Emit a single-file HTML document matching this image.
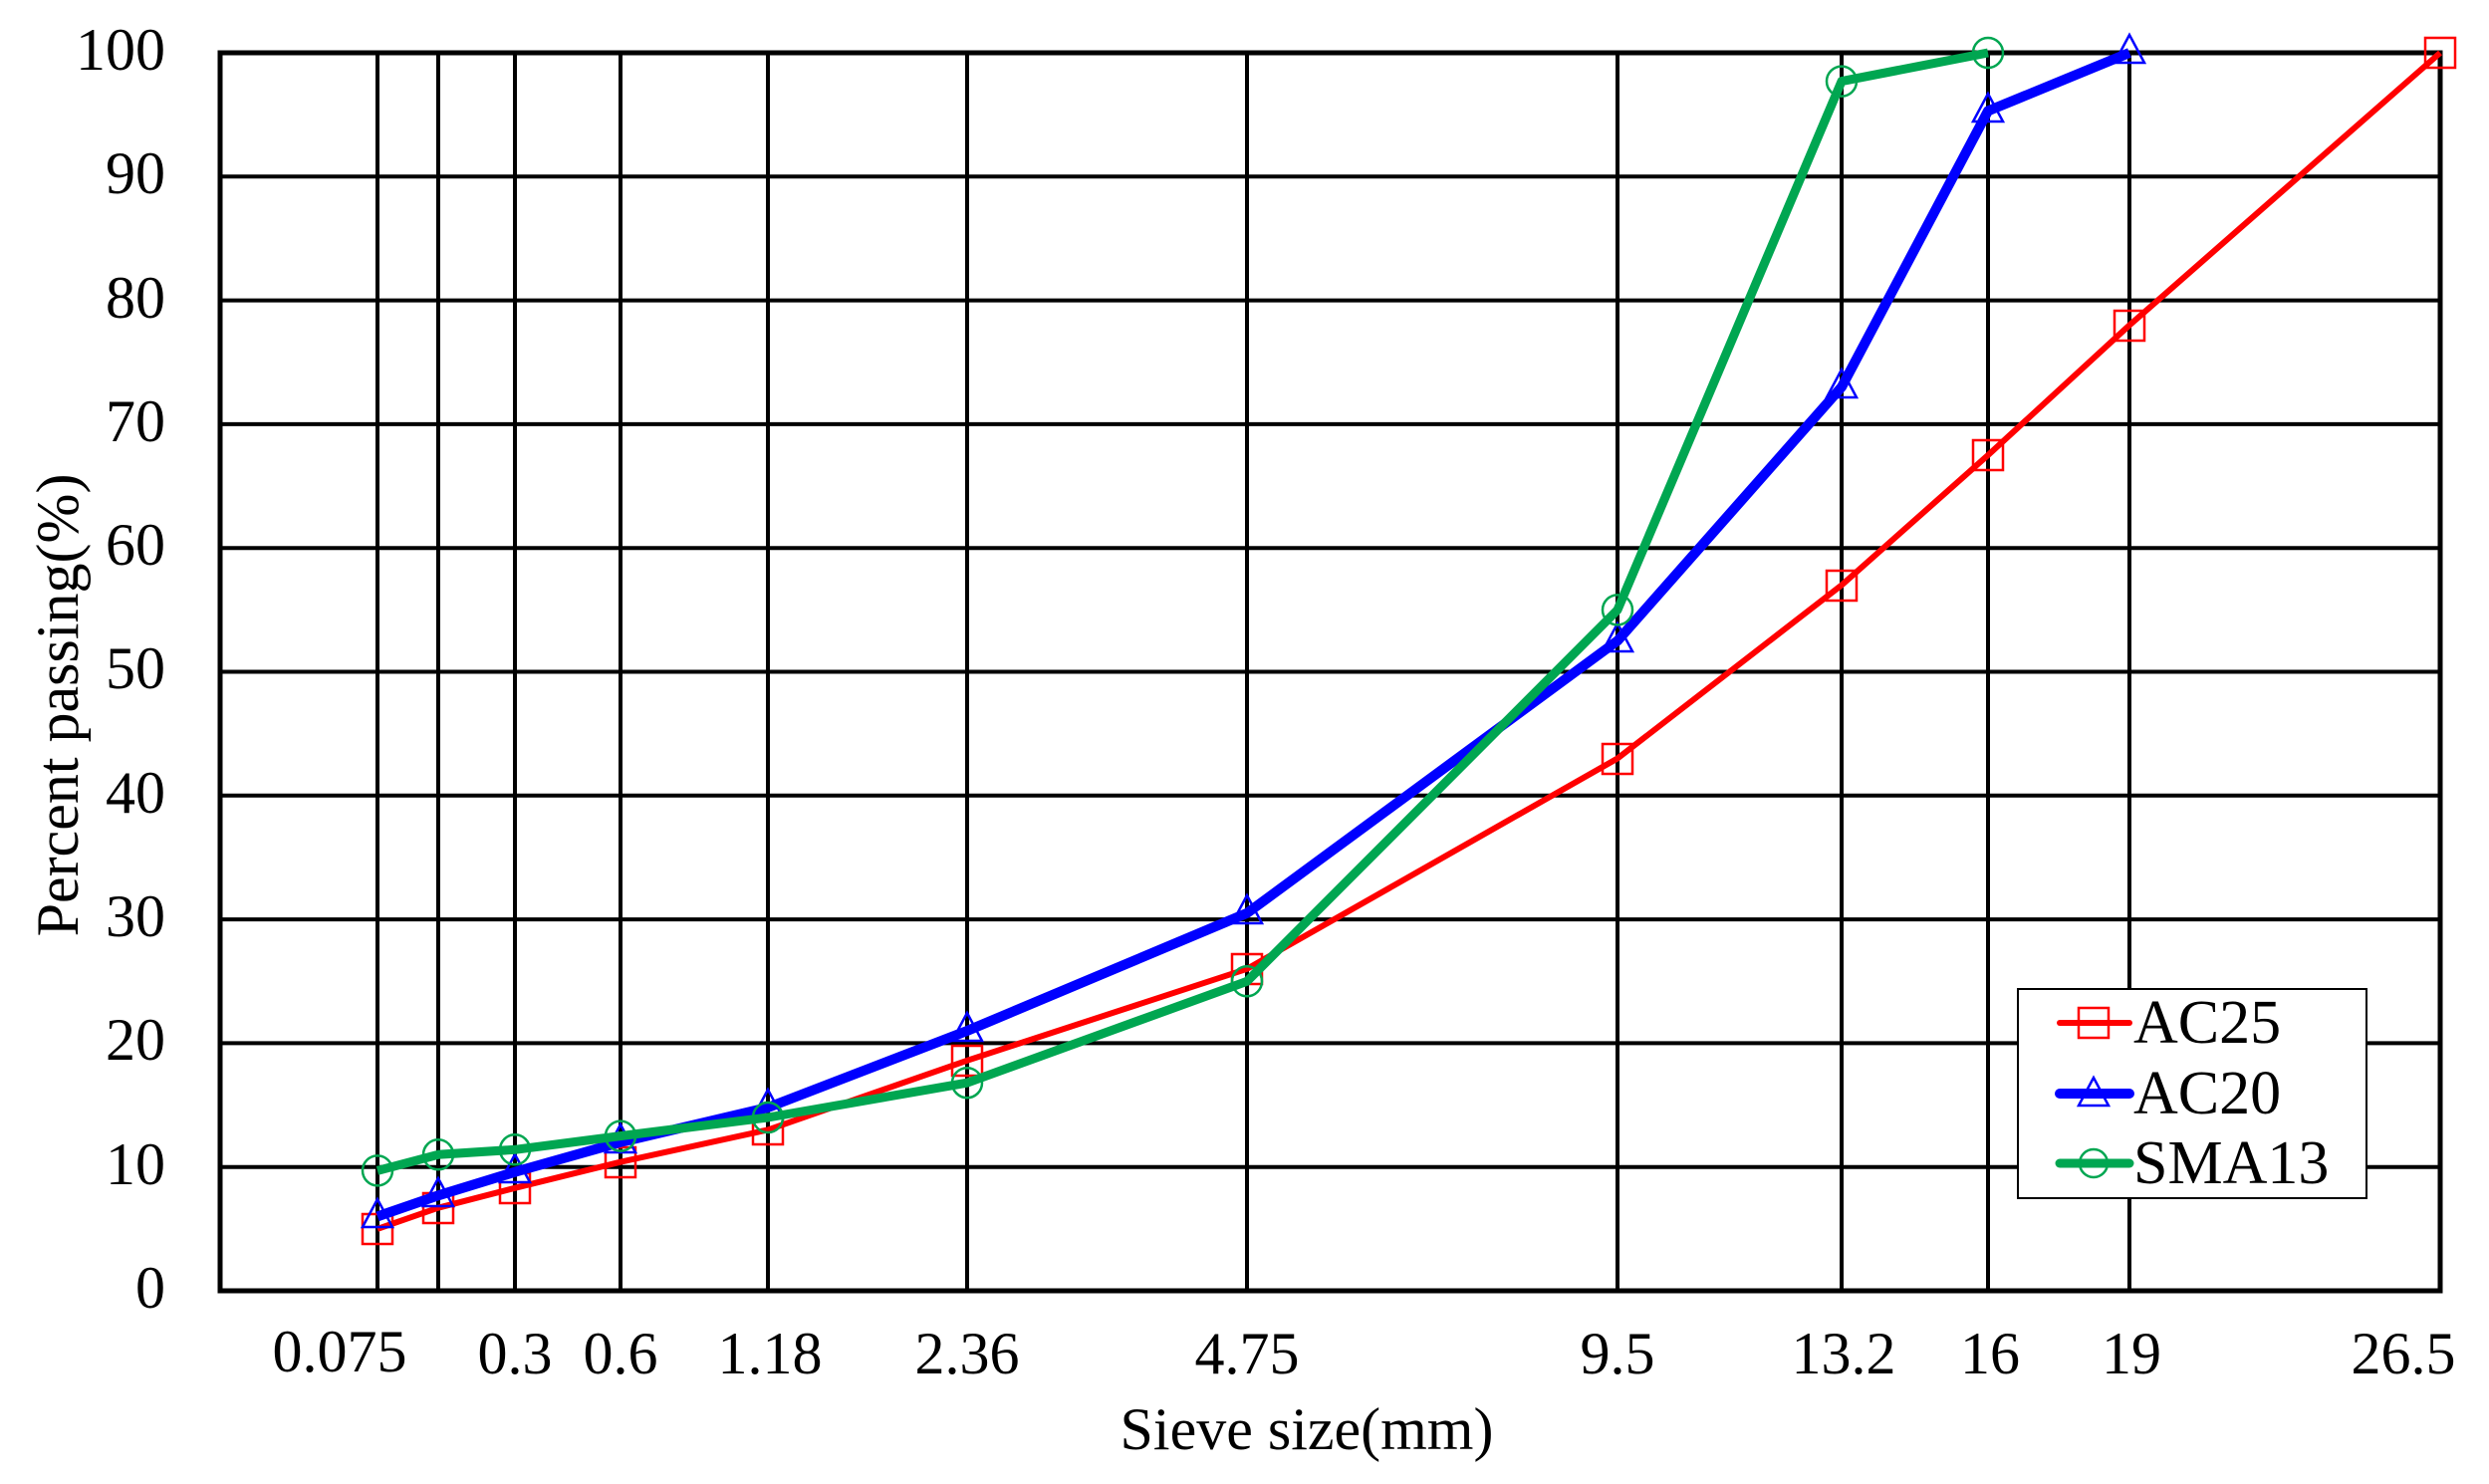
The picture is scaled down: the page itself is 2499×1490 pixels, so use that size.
<!DOCTYPE html>
<html><head><meta charset="utf-8"><style>html,body{margin:0;padding:0;background:#fff}svg{display:block}</style></head>
<body>
<svg width="2499" height="1490" viewBox="0 0 2499 1490" xmlns="http://www.w3.org/2000/svg" font-family="Liberation Serif, serif">
<rect width="2499" height="1490" fill="#fff"/>
<g stroke="#000" stroke-width="4">
<line x1="221" y1="53" x2="2450" y2="53"/>
<line x1="221" y1="177.3" x2="2450" y2="177.3"/>
<line x1="221" y1="301.6" x2="2450" y2="301.6"/>
<line x1="221" y1="425.9" x2="2450" y2="425.9"/>
<line x1="221" y1="550.2" x2="2450" y2="550.2"/>
<line x1="221" y1="674.5" x2="2450" y2="674.5"/>
<line x1="221" y1="798.8" x2="2450" y2="798.8"/>
<line x1="221" y1="923.1" x2="2450" y2="923.1"/>
<line x1="221" y1="1047.4" x2="2450" y2="1047.4"/>
<line x1="221" y1="1171.7" x2="2450" y2="1171.7"/>
<line x1="379" y1="53" x2="379" y2="1296"/>
<line x1="440" y1="53" x2="440" y2="1296"/>
<line x1="517" y1="53" x2="517" y2="1296"/>
<line x1="623" y1="53" x2="623" y2="1296"/>
<line x1="771" y1="53" x2="771" y2="1296"/>
<line x1="971" y1="53" x2="971" y2="1296"/>
<line x1="1252" y1="53" x2="1252" y2="1296"/>
<line x1="1624" y1="53" x2="1624" y2="1296"/>
<line x1="1849" y1="53" x2="1849" y2="1296"/>
<line x1="1996" y1="53" x2="1996" y2="1296"/>
<line x1="2138" y1="53" x2="2138" y2="1296"/>
</g>
<rect x="221" y="53" width="2229" height="1243" fill="none" stroke="#000" stroke-width="5"/>
<g font-size="60" text-anchor="end" fill="#000">
<text x="166" y="1313">0</text><text x="166" y="1189">10</text><text x="166" y="1064">20</text>
<text x="166" y="940">30</text><text x="166" y="816">40</text><text x="166" y="691">50</text>
<text x="166" y="567">60</text><text x="166" y="443">70</text><text x="166" y="319">80</text>
<text x="166" y="194">90</text><text x="166" y="70">100</text>
</g>
<g font-size="60" text-anchor="middle" fill="#000">
<text x="341" y="1377">0.075</text><text x="517" y="1379">0.3</text><text x="623" y="1379">0.6</text>
<text x="773" y="1379">1.18</text><text x="971" y="1379">2.36</text><text x="1252" y="1379">4.75</text>
<text x="1624" y="1379">9.5</text><text x="1851" y="1379">13.2</text><text x="1998" y="1379">16</text>
<text x="2140" y="1379">19</text><text x="2413" y="1379">26.5</text>
</g>
<text x="1312" y="1455" font-size="60" text-anchor="middle">Sieve size(mm)</text>
<text transform="translate(78,708) rotate(-90)" font-size="60" text-anchor="middle">Percent passing(%)</text>
<!-- AC25 -->
<polyline fill="none" stroke="#f00" stroke-width="6" stroke-linejoin="round" points="379,1233.9 440,1212.7 517,1192.8 623,1166.7 771,1134.4 971,1064.8 1252,972.8 1624,761.5 1849,587.5 1996,457 2138,326.5 2450,53"/>
<g fill="none" stroke="#f00" stroke-width="2.5">
<rect x="364" y="1219" width="30" height="30"/><rect x="425" y="1198" width="30" height="30"/><rect x="502" y="1178" width="30" height="30"/>
<rect x="608" y="1152" width="30" height="30"/><rect x="756" y="1119" width="30" height="30"/><rect x="956" y="1050" width="30" height="30"/>
<rect x="1237" y="958" width="30" height="30"/><rect x="1609" y="747" width="30" height="30"/><rect x="1834" y="573" width="30" height="30"/>
<rect x="1981" y="442" width="30" height="30"/><rect x="2123" y="312" width="30" height="30"/><rect x="2435" y="38" width="30" height="30"/>
</g>
<!-- AC20 -->
<polyline fill="none" stroke="#00f" stroke-width="10" stroke-linejoin="round" points="379,1221.4 440,1200.3 517,1176.7 623,1146.8 771,1112 971,1035 1252,916.9 1624,643.4 1849,388.6 1996,111.4 2138,53"/>
<g fill="none" stroke="#00f" stroke-width="2.5">
<path d="M379,1204 l-15,28 h30z"/><path d="M440,1183 l-15,28 h30z"/><path d="M517,1159 l-15,28 h30z"/>
<path d="M623,1129 l-15,28 h30z"/><path d="M771,1094 l-15,28 h30z"/><path d="M971,1017 l-15,28 h30z"/>
<path d="M1252,899 l-15,28 h30z"/><path d="M1624,626 l-15,28 h30z"/><path d="M1849,371 l-15,28 h30z"/>
<path d="M1996,94 l-15,28 h30z"/><path d="M2138,35 l-15,28 h30z"/>
</g>
<!-- SMA13 -->
<polyline fill="none" stroke="#00a651" stroke-width="9" stroke-linejoin="round" points="379,1175.4 440,1159.3 517,1154.3 623,1140.6 771,1122 971,1087.2 1252,985.3 1624,612.4 1849,81.6 1996,53"/>
<g fill="none" stroke="#00a651" stroke-width="2.5">
<circle cx="379" cy="1175.4" r="15"/><circle cx="440" cy="1159.3" r="15"/><circle cx="517" cy="1154.3" r="15"/>
<circle cx="623" cy="1140.6" r="15"/><circle cx="771" cy="1122" r="15"/><circle cx="971" cy="1087.2" r="15"/>
<circle cx="1252" cy="985.3" r="15"/><circle cx="1624" cy="612.4" r="15"/><circle cx="1849" cy="81.6" r="15"/>
<circle cx="1996" cy="53" r="15"/>
</g>
<!-- legend -->
<rect x="2026" y="993" width="350" height="210" fill="#fff" stroke="#000" stroke-width="2"/>
<line x1="2068" y1="1027" x2="2138" y2="1027" stroke="#f00" stroke-width="6" stroke-linecap="round"/>
<rect x="2087" y="1012" width="30" height="30" fill="none" stroke="#f00" stroke-width="2.5"/>
<line x1="2068" y1="1098" x2="2138" y2="1098" stroke="#00f" stroke-width="10" stroke-linecap="round"/>
<path d="M2102,1082 l-15,28 h30z" fill="none" stroke="#00f" stroke-width="2.5"/>
<line x1="2068" y1="1168" x2="2138" y2="1168" stroke="#00a651" stroke-width="9" stroke-linecap="round"/>
<circle cx="2102" cy="1168" r="14" fill="none" stroke="#00a651" stroke-width="2.5"/>
<g font-size="62">
<text x="2142" y="1047">AC25</text><text x="2142" y="1118">AC20</text><text x="2142" y="1188">SMA13</text>
</g>
</svg>
</body></html>
